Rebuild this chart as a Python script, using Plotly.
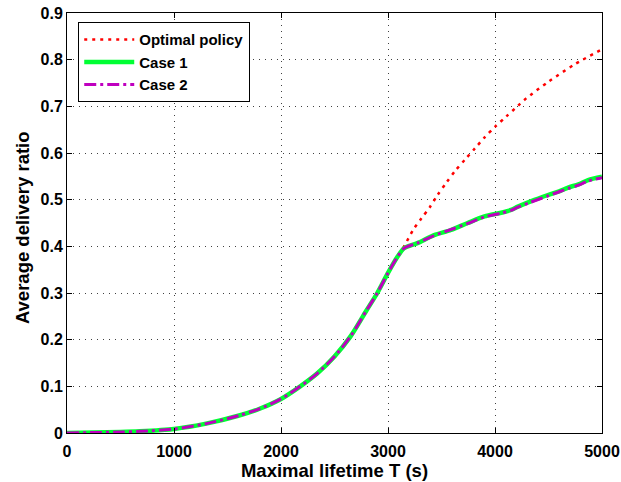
import plotly.graph_objects as go

# Shared part (all three curves coincide up to ~3100 s)
t_common = [0, 250, 500, 680, 1000, 1300, 1600, 1800, 2000, 2180, 2340, 2500, 2650, 2800, 2900, 3000, 3090]
y_common = [0, 0.001, 0.002, 0.0035, 0.0086, 0.02, 0.037, 0.052, 0.073, 0.100, 0.128, 0.164, 0.207, 0.263, 0.300, 0.343, 0.378]

t_opt = [3150, 3240, 3313, 3394, 3463, 3547, 3629, 3720, 3813, 3901, 4004, 4104, 4214, 4292, 4495, 4745, 5000]
y_opt = [0.400, 0.437, 0.460, 0.485, 0.510, 0.537, 0.562, 0.586, 0.610, 0.633, 0.657, 0.678, 0.701, 0.717, 0.752, 0.790, 0.822]

t_case = [3150, 3275, 3431, 3588, 3745, 3901, 4057, 4150, 4214, 4339, 4495, 4600, 4683, 4780, 4870, 5000]
y_case1 = [0.396, 0.407, 0.424, 0.435, 0.450, 0.464, 0.472, 0.478, 0.485, 0.497, 0.510, 0.518, 0.526, 0.533, 0.542, 0.549]
y_case2 = [0.396, 0.407, 0.423, 0.436, 0.449, 0.463, 0.471, 0.477, 0.484, 0.495, 0.508, 0.517, 0.524, 0.531, 0.540, 0.547]

x_ticks = [0, 1000, 2000, 3000, 4000, 5000]
y_ticks = [0, 0.1, 0.2, 0.3, 0.4, 0.5, 0.6, 0.7, 0.8, 0.9]
y_tick_text = ["0", "0.1", "0.2", "0.3", "0.4", "0.5", "0.6", "0.7", "0.8", "0.9"]

x_title = "Maximal lifetime T (s)"
y_title = "Average delivery ratio"

fig = go.Figure()
fig.add_trace(go.Scatter(x=t_common + t_opt, y=y_common + y_opt, mode="lines",
                         name="Optimal policy", line_shape="spline",
                         line=dict(color="#ff0000", width=2.5, dash="3px,5px", smoothing=0.8)))
fig.add_trace(go.Scatter(x=t_common + t_case, y=y_common + y_case1, mode="lines",
                         name="Case 1", line_shape="spline",
                         line=dict(color="#00ff33", width=4.5, smoothing=0.8)))
fig.add_trace(go.Scatter(x=t_common + t_case, y=y_common + y_case2, mode="lines",
                         name="Case 2", line_shape="spline",
                         line=dict(color="#bf00bf", width=3, dash="12px,4px,3px,4px", smoothing=0.8)))

font_family = "Liberation Sans, Arial, sans-serif"
axis_common = dict(
    showline=True, linecolor="black", linewidth=1, mirror="ticks",
    ticks="inside", ticklen=5, tickcolor="black",
    showgrid=True, gridcolor="rgba(0,0,0,0.75)", griddash="1px,5px", gridwidth=1,
    zeroline=False, automargin=False,
    tickfont=dict(family=font_family, size=16, color="black", weight="bold"),
)
fig.update_xaxes(range=[0, 5000], tickvals=x_ticks, ticktext=[str(v) for v in x_ticks],
                 ticklabelstandoff=4,
                 title=dict(text=x_title, standoff=4,
                            font=dict(family=font_family, size=18.5, color="black", weight="bold")),
                 **axis_common)
fig.update_yaxes(range=[0, 0.9], tickvals=y_ticks, ticktext=y_tick_text, **axis_common)

fig.add_annotation(text=y_title, xref="paper", yref="paper",
                   x=-0.084, y=0.488, xanchor="center", yanchor="middle",
                   textangle=-90, showarrow=False,
                   font=dict(family=font_family, size=18.5, color="black", weight="bold"))

fig.update_layout(
    width=621, height=482,
    margin=dict(l=67, r=19, t=13, b=49),
    paper_bgcolor="white", plot_bgcolor="white",
    showlegend=True,
    legend=dict(x=0.021, y=0.978, xanchor="left", yanchor="top",
                bordercolor="black", borderwidth=1, bgcolor="white",
                font=dict(family=font_family, size=15, color="black", weight="bold"),
                tracegroupgap=0, itemwidth=50),
)

fig.write_html("out.html")
